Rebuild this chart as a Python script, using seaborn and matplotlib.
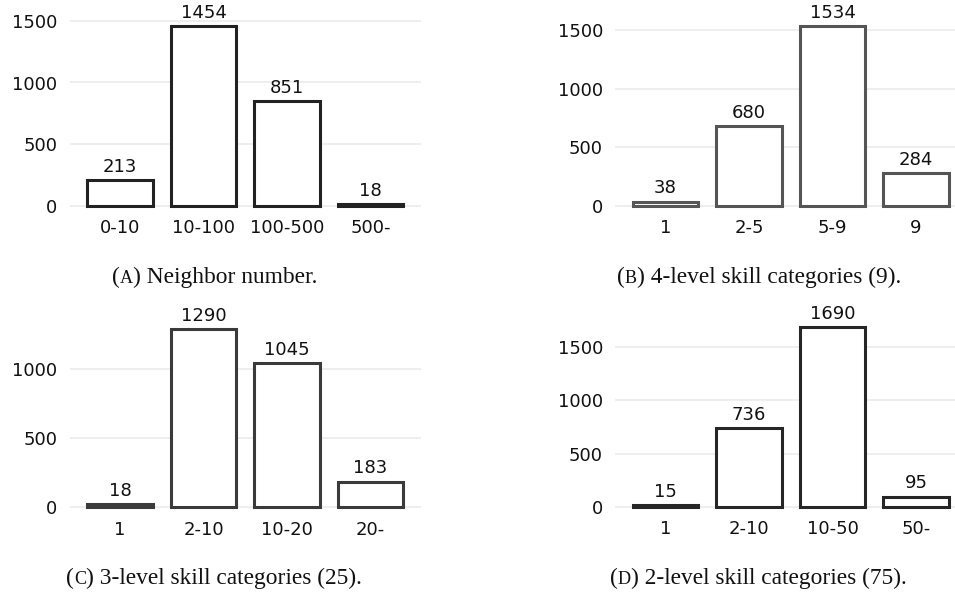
import matplotlib.pyplot as plt
from matplotlib.ticker import MultipleLocator
import seaborn as sns

# data
neighbor_bins = ["0-10", "10-100", "100-500", "500-"]
neighbor_counts = [213, 1454, 851, 18]

skill4_bins = ["1", "2-5", "5-9", "9"]
skill4_counts = [38, 680, 1534, 284]

skill3_bins = ["1", "2-10", "10-20", "20-"]
skill3_counts = [18, 1290, 1045, 183]

skill2_bins = ["1", "2-10", "10-50", "50-"]
skill2_counts = [15, 736, 1690, 95]

caption_letters = ["A", "B", "C", "D"]
caption_texts = ["Neighbor number.", "4-level skill categories (9).",
                 "3-level skill categories (25).", "2-level skill categories (75)."]

W, H = 955, 594
STEP = 83.5  # pixels between bar centres

sns.set_style("whitegrid", {"grid.color": "#ebebeb", "axes.edgecolor": "white"})
plt.rcParams["font.family"] = ["DejaVu Sans"]

fig = plt.figure(figsize=(W / 100, H / 100), dpi=100)

# (bins, counts, first bar centre px, zero line px, px per unit, ylim top, edge colour)
panels = [
    (neighbor_bins, neighbor_counts, 120.0, 206.0, 0.1235, 1620, "#222222"),
    (skill4_bins, skill4_counts, 665.5, 206.0, 0.11733, 1720, "#555555"),
    (skill3_bins, skill3_counts, 120.0, 506.7, 0.1377, 1450, "#3a3a3a"),
    (skill2_bins, skill2_counts, 665.5, 506.7, 0.1063, 1850, "#262626"),
]
ylo = -30

for bins, counts, c0, zero, scale, yhi, ec in panels:
    left = c0 - 0.6 * STEP
    right = left + 4.2 * STEP
    bottom = zero - ylo * scale
    top = zero - yhi * scale
    ax = fig.add_axes([left / W, 1 - bottom / H, (right - left) / W, (bottom - top) / H])
    sns.barplot(x=bins, y=counts, ax=ax, color="white", edgecolor=ec,
                linewidth=2.2, width=0.78, saturation=1)
    ax.bar_label(ax.containers[0], padding=3, fontsize=13, color="#111111")
    ax.set_xlim(-0.6, 3.6)
    ax.set_ylim(ylo, yhi)
    ax.yaxis.set_major_locator(MultipleLocator(500))
    ax.set_xlabel("")
    ax.set_ylabel("")
    ax.grid(axis="x", visible=False)
    ax.grid(axis="y", color="#ebebeb", linewidth=1.2)
    ax.tick_params(axis="both", length=0, labelsize=13, colors="#111111")
    ax.tick_params(axis="x", pad=7)
    ax.tick_params(axis="y", pad=9)
    sns.despine(ax=ax, left=True, bottom=True)

# captions with a small-caps letter, centred under each subfigure
renderer = fig.canvas.get_renderer()
cap_pos = [(215, 283), (759, 283), (214, 584), (758, 584)]
for (cx, base), letter, text in zip(cap_pos, caption_letters, caption_texts):
    fs = 16.8
    parts = [("(", fs), (letter, fs * 0.78), (") " + text, fs)]
    items = [fig.text(0, 1 - base / H, s, fontsize=f, family="Liberation Serif",
                      va="baseline", ha="left", color="#111111") for s, f in parts]
    widths = [t.get_window_extent(renderer).width for t in items]
    x = cx - sum(widths) / 2
    for t, w in zip(items, widths):
        t.set_x(x / W)
        x += w

fig.savefig("out.png", dpi=100)
